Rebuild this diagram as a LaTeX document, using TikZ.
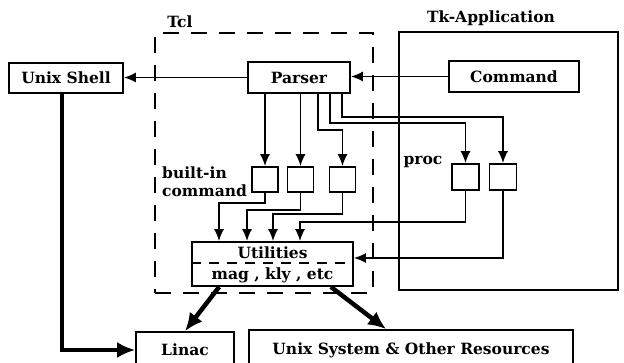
\documentclass[tikz,border=0pt]{standalone}
\usepackage{fontspec}
\setmainfont{DejaVu Serif}
\usetikzlibrary{arrows.meta,calc}
\begin{document}
\begin{tikzpicture}[x=1pt,y=-1pt,
  font=\fontsize{15.5}{18}\selectfont\bfseries,
  box/.style={draw,line width=1.7pt,inner sep=0pt},
  sbox/.style={box,minimum width=26pt,minimum height=25pt},
  arr/.style={line width=1.7pt,-{Latex[length=12pt,width=10pt]}},
  thick arr/.style={line width=4.5pt,-{Latex[length=18pt,width=16pt]}},
  lbl/.style={inner sep=0pt}]
\useasboundingbox (0,0) rectangle (624,363);
% containers
\node[draw,dash pattern=on 16pt off 12pt,line width=2pt,minimum width=218pt,minimum height=260pt,inner sep=0pt] (tcl) at (264,163) {};
\node[lbl] (tcllbl) at (180,22) {Tcl};
\node[box,minimum width=219pt,minimum height=258pt] (tk) at (508.5,161) {};
\node[lbl] (tklbl) at (491,18) {Tk-Application};
% main nodes
\node[box,minimum width=114pt,minimum height=30pt] (unixshell) at (66,78) {Unix Shell};
\node[box,minimum width=102pt,minimum height=31pt] (parser) at (299,77.5) {Parser};
\node[box,minimum width=130pt,minimum height=31pt] (command) at (514,76.5) {Command};
% built-in command boxes
\node[sbox] (b1) at (265,179.5) {};
\node[sbox] (b2) at (300.5,179.5) {};
\node[sbox] (b3) at (342.5,179.5) {};
\node[lbl,anchor=west] (bilbl) at (162,173) {built-in};
\node[lbl,anchor=west] (cmdlbl) at (162,191) {command};
% proc boxes
\node[sbox,minimum width=27pt,minimum height=26pt] (p1) at (465.5,177) {};
\node[sbox,minimum width=27pt,minimum height=26pt] (p2) at (503,177) {};
\node[lbl] (proclbl) at (423,162) {proc};
% utilities
\node[box,minimum width=161pt,minimum height=44pt] (util) at (272.5,264) {};
\draw[line width=1.6pt,dash pattern=on 10pt off 8pt] (util.west |- 0,263) -- (util.east |- 0,263);
\node[lbl] (utiltitle) at (272.5,253) {Utilities};
\node[lbl] (utilsub) at (272.5,275) {mag , kly , etc};
% bottom
\node[box,minimum width=98pt,minimum height=36pt] (linac) at (185,350) {Linac};
\node[box,minimum width=324pt,minimum height=40pt] (unixsys) at (411,350) {Unix System \& Other Resources};
% coordinates for routing
\coordinate (s3) at (318,0);
\coordinate (s4) at (330,0);
\coordinate (s5) at (342,0);
\coordinate (u1) at (219,0);
\coordinate (u2) at (247,0);
\coordinate (u3) at (273,0);
\coordinate (u4) at (300,0);
% connectors
\draw[arr] (command.west) -- (command.west -| parser.east);
\draw[arr] (parser.west) -- (parser.west -| unixshell.east);
\draw[arr] (b1.north |- parser.south) -- (b1.north);
\draw[arr] (b2.north |- parser.south) -- (b2.north);
\draw[arr] (s3 |- parser.south) -- (s3 |- 0,130) -| (b3.north);
\draw[arr] (s4 |- parser.south) -- (s4 |- 0,123) -| (p1.north);
\draw[arr] (s5 |- parser.south) -- (s5 |- 0,117) -| (p2.north);
\draw[arr] (b1.south) |- (u1 |- 0,203) -- (u1 |- util.north);
\draw[arr] (b2.south) |- (u2 |- 0,210) -- (u2 |- util.north);
\draw[arr] (b3.south) |- (u3 |- 0,214) -- (u3 |- util.north);
\draw[arr] (p1.south) |- (u4 |- 0,222) -- (u4 |- util.north);
\draw[arr] (p2.south) |- (util.east |- 0,258);
\draw[thick arr] ([xshift=28pt]util.south west) -- (linac.north);
\draw[thick arr] ([xshift=-23pt]util.south east) -- ([xshift=138pt]unixsys.north west);
\draw[thick arr] ([xshift=-4pt]unixshell.south) |- (linac.west);
\end{tikzpicture}
\end{document}
